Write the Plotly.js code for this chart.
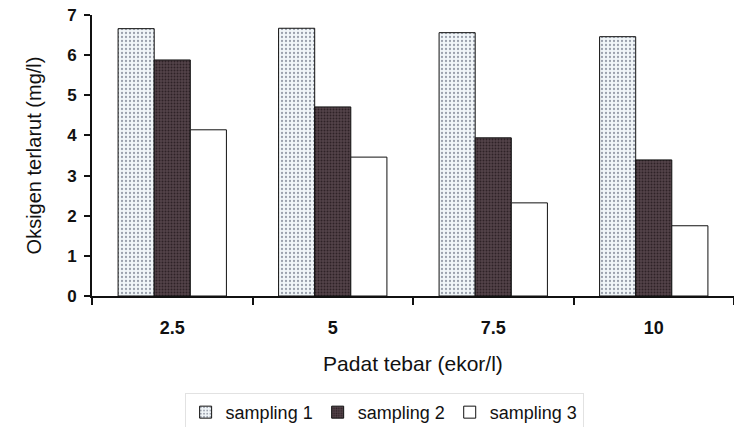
<!DOCTYPE html>
<html>
<head>
<meta charset="utf-8">
<script src="https://cdn.plot.ly/plotly-3.0.1.min.js"></script>
<style>html,body{margin:0;padding:0;background:#fff;}#chart{width:734px;height:427px;}</style>
</head>
<body>
<div id="chart"></div>
<script>
const categories = ["2.5", "5", "7.5", "10"];
const seriesNames = ["sampling 1", "sampling 2", "sampling 3"];
const sampling1 = [6.66, 6.67, 6.56, 6.46];
const sampling2 = [5.88, 4.71, 3.94, 3.39];
const sampling3 = [4.14, 3.46, 2.32, 1.75];
const yTicks = [0, 1, 2, 3, 4, 5, 6, 7];

const styles = [
  {bg: "#f1f6f9", fg: "#9aa0ac", shape: ".", size: 4, solidity: 0.25},
  {bg: "#54434a", fg: "#2e2226", shape: ".", size: 3, solidity: 0.35},
  {bg: "#ffffff", fg: "#ffffff", shape: "", size: 4, solidity: 0.3}
];
const values = [sampling1, sampling2, sampling3];

const traces = values.map((v, i) => ({
  type: "bar",
  name: seriesNames[i],
  x: categories,
  y: v,
  marker: {
    color: styles[i].bg,
    line: {color: "#111", width: 1},
    pattern: {shape: styles[i].shape, bgcolor: styles[i].bg, fgcolor: styles[i].fg, size: styles[i].size, solidity: styles[i].solidity}
  }
}));

const layout = {
  width: 734, height: 427,
  margin: {l: 92, r: 0, t: 15, b: 131, autoexpand: false},
  paper_bgcolor: "#fff", plot_bgcolor: "#fff",
  barmode: "group",
  bargap: 0.325,
  bargroupgap: 0,
  font: {family: "Liberation Sans, Arial, sans-serif", color: "#111"},
  xaxis: {
    type: "category",
    tickson: "boundaries",
    ticks: "outside", ticklen: 7, tickwidth: 2, tickcolor: "#111",
    showline: true, linecolor: "#111", linewidth: 2,
    showgrid: false,
    automargin: false,
    ticklabelstandoff: 14,
    tickfont: {size: 18, family: "Liberation Sans, Arial, sans-serif", weight: "bold"},
    title: {text: "Padat tebar (ekor/l)", font: {size: 21}, standoff: 20}
  },
  yaxis: {
    range: [0, 7],
    tickvals: yTicks,
    ticks: "outside", ticklen: 6, tickwidth: 2, tickcolor: "#111",
    showline: true, linecolor: "#111", linewidth: 2,
    showgrid: false, zeroline: false,
    automargin: false,
    ticklabelstandoff: 4,
    tickfont: {size: 17, family: "Liberation Sans, Arial, sans-serif", weight: "bold"},
    title: {text: "Oksigen terlarut (mg/l)", font: {size: 20}, standoff: 20}
  },
  showlegend: true,
  legend: {
    orientation: "h",
    x: 0.455, xanchor: "center",
    y: -0.345, yanchor: "top",
    font: {size: 18},
    bordercolor: "#e2e2e2", borderwidth: 1,
    itemwidth: 30,
    traceorder: "normal"
  }
};

Plotly.newPlot("chart", traces, layout, {displayModeBar: false, staticPlot: true});
</script>
</body>
</html>
